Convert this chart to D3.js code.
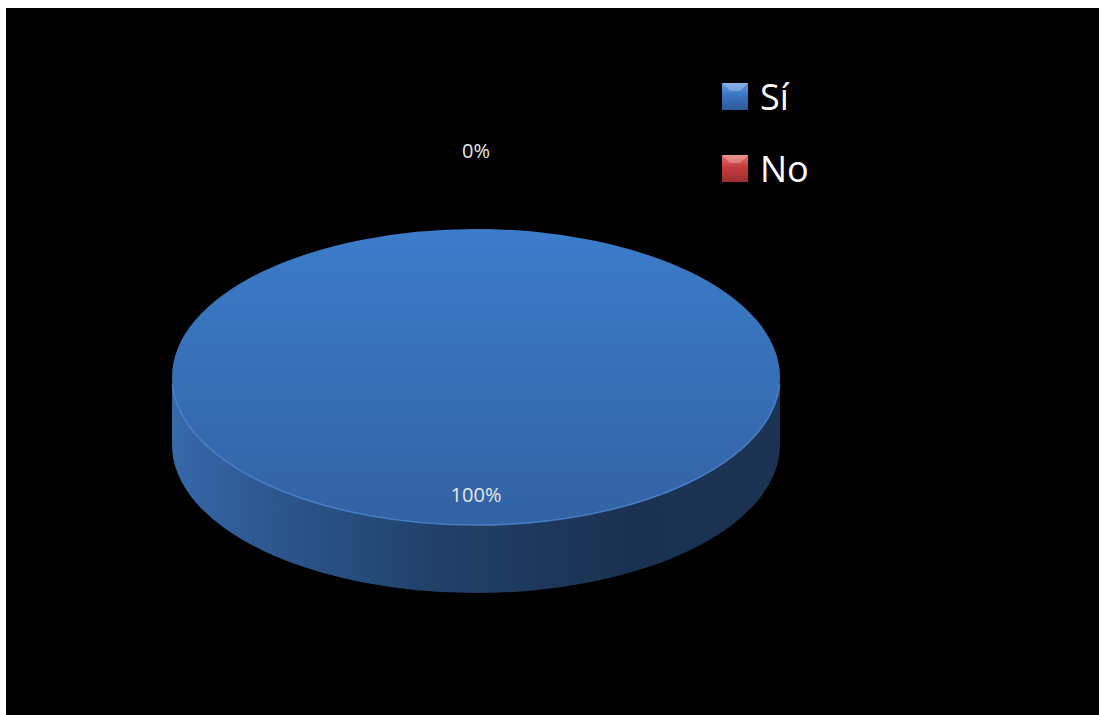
<!DOCTYPE html>
<html>
<head>
<meta charset="utf-8">
<title>Pie 3D</title>
<script src="https://cdn.jsdelivr.net/npm/d3@7"></script>
<style>
    html, body { margin: 0; padding: 0; background: #fff; }
    svg { display: block; }
    text { font-family: "Open Sans", "DejaVu Sans", sans-serif; }
</style>
</head>
<body>
<script>
    var categories = ["Sí", "No"];
    var values = [100, 0];
    var labels = ["100%", "0%"];
    var colors = ["#3a74c0", "#c43c3c"];

    var width = 1099, height = 715;
    var cx = 476, cy = 377, rx = 304, ry = 148, depth = 68;

    var svg = d3.select("body").append("svg")
        .attr("width", width)
        .attr("height", height);

    var defs = svg.append("defs");

    var topGrad = defs.append("linearGradient").attr("id", "topGrad")
        .attr("x1", 0).attr("y1", 0).attr("x2", 0).attr("y2", 1);
    topGrad.append("stop").attr("offset", "0%").attr("stop-color", "#3c7cca");
    topGrad.append("stop").attr("offset", "100%").attr("stop-color", "#3262a3");

    var sideGrad = defs.append("linearGradient").attr("id", "sideGrad")
        .attr("x1", 0).attr("y1", 0).attr("x2", 1).attr("y2", 0);
    sideGrad.append("stop").attr("offset", "0%").attr("stop-color", "#3768aa");
    sideGrad.append("stop").attr("offset", "15%").attr("stop-color", "#2d5891");
    sideGrad.append("stop").attr("offset", "45%").attr("stop-color", "#203f67");
    sideGrad.append("stop").attr("offset", "75%").attr("stop-color", "#1b3151");
    sideGrad.append("stop").attr("offset", "100%").attr("stop-color", "#1c3354");

    function swatchGrad(id, light, base, dark) {
        var g = defs.append("linearGradient").attr("id", id)
            .attr("x1", 0).attr("y1", 0).attr("x2", 0).attr("y2", 1);
        g.append("stop").attr("offset", "0%").attr("stop-color", light);
        g.append("stop").attr("offset", "45%").attr("stop-color", base);
        g.append("stop").attr("offset", "100%").attr("stop-color", dark);
    }
    swatchGrad("sw0", "#5f9be0", "#3a74c0", "#2c5a98");
    swatchGrad("sw1", "#e67070", "#c43c3c", "#9c2e2e");

    // black chart area
    svg.append("rect")
        .attr("x", 6).attr("y", 8)
        .attr("width", width - 6).attr("height", height - 8)
        .attr("fill", "#000");

    var pie = d3.pie().sort(null).value(function (d) { return d; });
    var arcs = pie(values);

    function pt(a, dy) {
        return [cx + rx * Math.sin(a), cy - ry * Math.cos(a) + (dy || 0)];
    }

    function topPath(d) {
        var span = d.endAngle - d.startAngle;
        if (span <= 0) return "";
        if (span >= 2 * Math.PI - 1e-6) {
            return "M" + (cx - rx) + "," + cy +
                "A" + rx + "," + ry + " 0 1,1 " + (cx + rx) + "," + cy +
                "A" + rx + "," + ry + " 0 1,1 " + (cx - rx) + "," + cy + "Z";
        }
        var p0 = pt(d.startAngle), p1 = pt(d.endAngle);
        return "M" + cx + "," + cy + "L" + p0 + "A" + rx + "," + ry + " 0 " +
            (span > Math.PI ? 1 : 0) + ",1 " + p1 + "Z";
    }

    // front side: visible between angle PI/2 and 3PI/2 (screen bottom half)
    function sidePath(d) {
        var a0 = Math.max(d.startAngle, Math.PI / 2);
        var a1 = Math.min(d.endAngle, 3 * Math.PI / 2);
        if (a1 <= a0) return "";
        var p0 = pt(a0), p1 = pt(a1), q1 = pt(a1, depth), q0 = pt(a0, depth);
        return "M" + p0 + "A" + rx + "," + ry + " 0 0,1 " + p1 +
            "L" + q1 + "A" + rx + "," + ry + " 0 0,0 " + q0 + "Z";
    }

    svg.selectAll("path.side").data(arcs).enter().append("path")
        .attr("class", "side")
        .attr("d", sidePath)
        .attr("fill", function (d, i) { return i === 0 ? "url(#sideGrad)" : colors[i]; });

    svg.selectAll("path.top").data(arcs).enter().append("path")
        .attr("class", "top")
        .attr("d", topPath)
        .attr("fill", function (d, i) { return i === 0 ? "url(#topGrad)" : colors[i]; });

    // light bevel along front rim
    svg.append("path")
        .attr("d", "M" + pt(Math.PI / 2 + 0.05) + "A" + rx + "," + ry + " 0 0,1 " + pt(3 * Math.PI / 2 - 0.05))
        .attr("fill", "none")
        .attr("stroke", "#4d8ad6")
        .attr("stroke-width", 1.6)
        .attr("opacity", 0.8);

    // data labels
    svg.selectAll("text.lbl").data(arcs).enter().append("text")
        .attr("class", "lbl")
        .attr("x", function (d) {
            var m = (d.startAngle + d.endAngle) / 2;
            var k = d.value > 0 ? 0.8 : 1.53;
            return cx + rx * k * Math.sin(m);
        })
        .attr("y", function (d) {
            var m = (d.startAngle + d.endAngle) / 2;
            var k = d.value > 0 ? 0.8 : 1.53;
            return cy - ry * k * Math.cos(m) + 7;
        })
        .attr("text-anchor", "middle")
        .attr("font-size", "20px")
        .attr("fill", "#e8e8e8")
        .text(function (d, i) { return labels[i]; });

    // legend
    var y = d3.scaleBand().domain(categories).range([83, 227]).paddingInner(0);
    var legend = svg.selectAll("g.leg").data(categories).enter().append("g")
        .attr("class", "leg")
        .attr("transform", function (d) { return "translate(722," + y(d) + ")"; });

    legend.append("rect")
        .attr("width", 26).attr("height", 27)
        .attr("fill", function (d, i) { return "url(#sw" + i + ")"; });
    legend.append("path")
        .attr("d", "M0,0L26,0L18,8L8,8Z")
        .attr("fill", "#fff").attr("opacity", 0.25);
    legend.append("text")
        .attr("x", 38).attr("y", 27)
        .attr("font-size", "36px")
        .attr("fill", "#fff")
        .text(function (d) { return d; });
</script>
</body>
</html>
